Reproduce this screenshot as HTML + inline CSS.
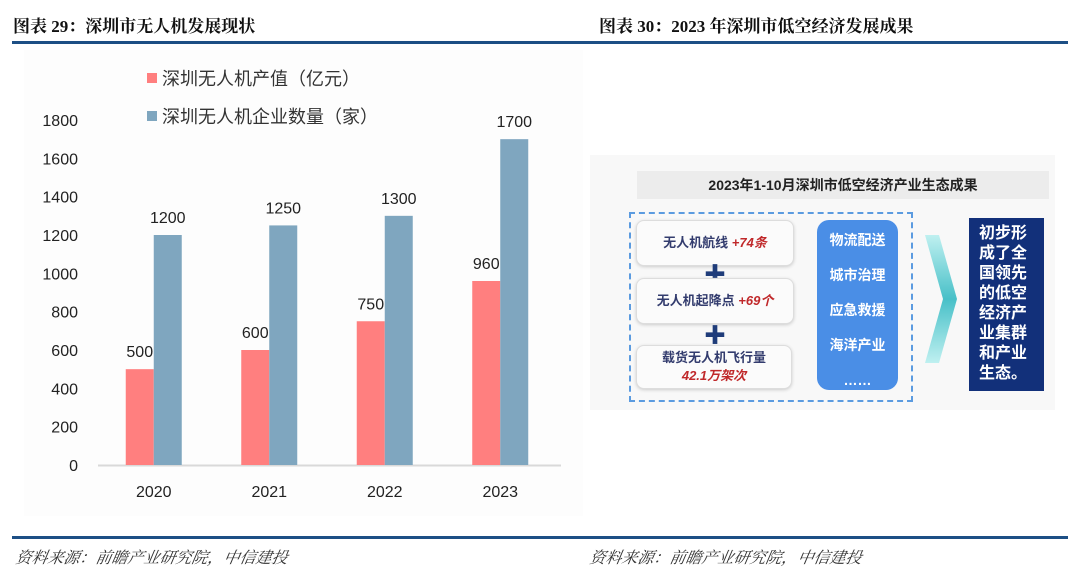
<!DOCTYPE html>
<html><head><meta charset="utf-8"><style>
body{margin:0;width:1080px;height:585px;background:#fff;position:relative;overflow:hidden;font-family:"Liberation Sans","Noto Sans CJK SC",sans-serif;}
.abs{position:absolute;}
.title{font-family:"Liberation Serif","Noto Serif CJK SC",serif;font-weight:bold;font-size:17px;color:#111;top:12px;}
.foot{font-family:"Liberation Serif","Noto Serif CJK SC",serif;font-style:italic;font-size:16px;color:#333;top:545px;transform:skewX(-10deg);}
.lbox{background:#fbfbfb;border:1px solid #ddd;border-radius:8px;box-shadow:0 1px 3px #ccc;text-align:center;font-weight:bold;font-size:13px;color:#333c6e;}
.red{color:#c0282a;font-style:italic;}
.plus{color:#1f3c7a;font-size:22px;font-weight:bold;}
</style></head><body>
<div class="abs title" style="left:13px;">图表 29：深圳市无人机发展现状</div>
<div class="abs title" style="left:599px;">图表 30：2023 年深圳市低空经济发展成果</div>
<div class="abs" style="left:12px;top:41px;width:1056px;height:3px;background:#1d4f85;"></div>
<div class="abs" style="left:12px;top:536px;width:1056px;height:3px;background:#1d4f85;"></div>
<div class="abs foot" style="left:16px;">资料来源：前瞻产业研究院，中信建投</div>
<div class="abs foot" style="left:590px;">资料来源：前瞻产业研究院，中信建投</div>

<svg class="abs" style="left:0;top:0" width="590" height="530">
<rect x="24" y="50" width="559" height="466" fill="#fdfdfd"/>
<g id="chart"></g>
</svg>
<script>
const categories=['2020','2021','2022','2023'];
const outputValues=[500,600,750,960];
const companyValues=[1200,1250,1300,1700];
const yTicks=[0,200,400,600,800,1000,1200,1400,1600,1800];
const seriesNames=['深圳无人机产值（亿元）','深圳无人机企业数量（家）'];
const NS='http://www.w3.org/2000/svg';
const g=document.getElementById('chart');
const y0=465,pxPer=345/1800,left=96,catW=115.5,barW=28;
const yS=v=>y0-v*pxPer;
const xC=i=>left+catW*(i+0.5);
function mk(t,a,txt){const e=document.createElementNS(NS,t);for(const k in a)e.setAttribute(k,a[k]);if(txt!==undefined)e.textContent=txt;g.appendChild(e);return e;}
yTicks.forEach(v=>{const e=mk('text',{x:78,y:yS(v)+6,'text-anchor':'end','font-size':16,fill:'#222','font-family':'Liberation Sans'},v);

});
const ax=mk('line',{x1:98,x2:561,y1:y0+0.5,y2:y0+0.5,stroke:'#d9d9d9','stroke-width':2});


categories.forEach((c,i)=>{
const cx=xC(i);
const t=mk('text',{x:cx,y:497,'text-anchor':'middle','font-size':16,fill:'#222','font-family':'Liberation Sans'},c);


const b1=mk('rect',{x:cx-barW,y:yS(outputValues[i]),width:barW,height:outputValues[i]*pxPer,fill:'#ff7f7f'});


const b2=mk('rect',{x:cx,y:yS(companyValues[i]),width:barW,height:companyValues[i]*pxPer,fill:'#7fa6bf'});


const l1=mk('text',{x:cx-barW/2,y:yS(outputValues[i])-12,'text-anchor':'middle','font-size':16,fill:'#222','font-family':'Liberation Sans'},outputValues[i]);


const l2=mk('text',{x:cx+barW/2,y:yS(companyValues[i])-12,'text-anchor':'middle','font-size':16,fill:'#222','font-family':'Liberation Sans'},companyValues[i]);


});
const colors=['#ff7f7f','#7fa6bf'];
seriesNames.forEach((n,i)=>{
const yy=78+38*i;
const r=mk('rect',{x:147,y:yy-5,width:10,height:10,fill:colors[i]});


const t=mk('text',{x:162,y:yy+7,'font-size':18,fill:'#333','font-family':'Liberation Sans, Noto Sans CJK SC, sans-serif'},n);


});
</script>

<div class="abs" style="left:590px;top:155px;width:465px;height:255px;background:#f8f8f8;">
</div>
<div class="abs" style="left:637px;top:171px;width:412px;height:28px;background:#ececec;text-align:center;line-height:28px;font-weight:bold;font-size:14px;color:#222;">2023年1-10月深圳市低空经济产业生态成果</div>
<div class="abs" style="left:629px;top:212px;width:280px;height:186px;border:2px dashed #5b9be0;"></div>
<div class="abs lbox" style="left:636px;top:220px;width:156px;height:44px;line-height:44px;">无人机航线 <span class="red">+74条</span></div>
<div class="abs plus" style="left:704px;top:257px;">✚</div>
<div class="abs lbox" style="left:636px;top:278px;width:156px;height:44px;line-height:44px;">无人机起降点 <span class="red">+69个</span></div>
<div class="abs plus" style="left:704px;top:318px;">✚</div>
<div class="abs lbox" style="left:636px;top:345px;width:156px;height:44px;line-height:18px;padding-top:3px;box-sizing:border-box;">载货无人机飞行量<br><span class="red">42.1万架次</span></div>
<div class="abs" style="left:817px;top:220px;width:81px;height:170px;background:#4a8ee6;border-radius:12px;color:#fff;font-weight:bold;font-size:14px;text-align:center;line-height:35px;padding-top:3px;box-sizing:border-box;">物流配送<br>城市治理<br>应急救援<br>海洋产业<br>……</div>
<svg class="abs" style="left:925px;top:235px" width="34" height="128">
<defs><linearGradient id="cg" x1="0" y1="0" x2="0" y2="1"><stop offset="0" stop-color="#bff0f0"/><stop offset="0.5" stop-color="#48c0c8"/><stop offset="1" stop-color="#bff0f0"/></linearGradient></defs>
<polygon points="0,0 14,0 32,64 14,128 0,128 18,64" fill="url(#cg)"/>
</svg>
<div class="abs" style="left:969px;top:218px;width:75px;height:173px;background:#12307a;color:#fff;font-weight:bold;font-size:16px;line-height:20px;padding:6px 0 0 10px;box-sizing:border-box;">初步形<br>成了全<br>国领先<br>的低空<br>经济产<br>业集群<br>和产业<br>生态。</div>
</body></html>
